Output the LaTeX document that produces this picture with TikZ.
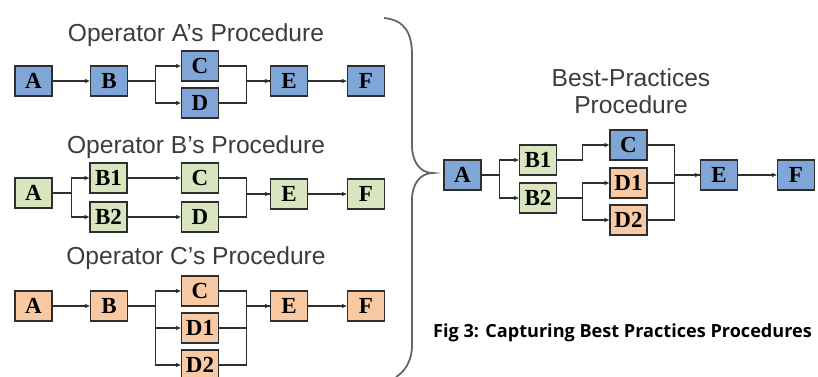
\documentclass[tikz,border=0pt]{standalone}
\usepackage{fontspec}
\setmainfont{Liberation Serif}
\setsansfont{Liberation Sans}
\newfontfamily\capfont{Open Sans}
\usetikzlibrary{arrows.meta}
\definecolor{boxblue}{HTML}{80A6D8}
\definecolor{boxgreen}{HTML}{D8E5BE}
\definecolor{boxorange}{HTML}{F8C9A2}
\definecolor{titlegray}{HTML}{3C3C3C}
\definecolor{edgegray}{HTML}{2E2E2E}
\begin{document}
\begin{tikzpicture}[x=1pt, y=-1pt, >={Stealth[length=5pt,width=4.5pt]},
  blk/.style={draw=edgegray, line width=1.7pt, minimum width=37pt, minimum height=30pt,
    inner sep=0pt, font=\fontsize{23}{23}\selectfont\bfseries},
  bl/.style={blk, fill=boxblue},
  gr/.style={blk, fill=boxgreen},
  or/.style={blk, fill=boxorange},
  ttl/.style={font=\sffamily\fontsize{24.6}{27}\selectfont, text=titlegray, align=center},
  lnk/.style={line width=1.1pt, draw=edgegray}]
  \useasboundingbox (0,0) rectangle (818,376);
  \node[ttl] (tA) at (196,35) {Operator A's Procedure};
  \node[bl] (aA) at (33.5,81) {A};
  \node[bl] (aB) at (109,81) {B};
  \node[bl] (aC) at (200,66) {C};
  \node[bl] (aD) at (200,103) {D};
  \node[bl] (aE) at (289,81) {E};
  \node[bl] (aF) at (366,81) {F};
  \draw[lnk,->] (aA) -- (aB);
  \draw[lnk,->] (aB.east) -- ++(27,0) |- (aC.west);
  \draw[lnk,->] (aB.east) -- ++(27,0) |- (aD.west);
  \draw[lnk,->] (aC.east) -- ++(27,0) |- (aE.west);
  \draw[lnk] (aD.east) -- ++(27,0) |- (aE.west);
  \draw[lnk,->] (aE) -- (aF);

  \node[ttl] (tB) at (196,147) {Operator B's Procedure};
  \node[gr] (bA) at (33.5,193) {A};
  \node[gr] (bB1) at (108.5,178) {B1};
  \node[gr] (bB2) at (108.5,217) {B2};
  \node[gr] (bC) at (200,178) {C};
  \node[gr] (bD) at (200,217) {D};
  \node[gr] (bE) at (289,194) {E};
  \node[gr] (bF) at (366,194) {F};
  \draw[lnk,->] (bA.east) -- ++(19,0) |- (bB1.west);
  \draw[lnk,->] (bA.east) -- ++(19,0) |- (bB2.west);
  \draw[lnk,->] (bB1) -- (bC);
  \draw[lnk,->] (bB2) -- (bD);
  \draw[lnk,->] (bC.east) -- ++(27,0) |- (bE.west);
  \draw[lnk] (bD.east) -- ++(27,0) |- (bE.west);
  \draw[lnk,->] (bE) -- (bF);

  \node[ttl] (tC) at (196,258) {Operator C's Procedure};
  \node[or] (cA) at (33.5,306) {A};
  \node[or] (cB) at (109,306) {B};
  \node[or] (cC) at (200,291) {C};
  \node[or] (cD1) at (200,328) {D1};
  \node[or] (cD2) at (200,365) {D2};
  \node[or] (cE) at (289,306) {E};
  \node[or] (cF) at (366,306) {F};
  \draw[lnk,->] (cA) -- (cB);
  \draw[lnk,->] (cB.east) -- ++(27,0) |- (cC.west);
  \draw[lnk,->] (cB.east) -- ++(27,0) |- (cD1.west);
  \draw[lnk,->] (cB.east) -- ++(27,0) |- (cD2.west);
  \draw[lnk,->] (cC.east) -- ++(27,0) |- (cE.west);
  \draw[lnk] (cD1.east) -- ++(27,0) |- (cE.west);
  \draw[lnk] (cD2.east) -- ++(27,0) |- (cE.west);
  \draw[lnk,->] (cE) -- (cF);

  \draw[line width=1.8pt, draw=gray!80!black]
    (384,18) .. controls (404,20) and (412,32) .. (412,55) -- (412,145)
    .. controls (412,162) and (420,173) .. (433,173)
    .. controls (420,173) and (412,184) .. (412,200) -- (412,345)
    .. controls (412,362) and (404,372) .. (396,377);

  \node[ttl] (tP) at (631,91) {Best-Practices\\Procedure};
  \node[bl] (pA) at (462.5,175) {A};
  \node[gr] (pB1) at (538,160) {B1};
  \node[gr] (pB2) at (538,198) {B2};
  \node[bl] (pC) at (628.5,145) {C};
  \node[or] (pD1) at (628.5,183) {D1};
  \node[or] (pD2) at (628.5,220) {D2};
  \node[bl] (pE) at (719,175) {E};
  \node[bl] (pF) at (796,175) {F};
  \draw[lnk,->] (pA.east) -- ++(18,0) |- (pB1.west);
  \draw[lnk,->] (pA.east) -- ++(18,0) |- (pB2.west);
  \draw[lnk,->] (pB1.east) -- ++(25,0) |- (pC.west);
  \draw[lnk,->] (pB2.east) -- ++(25,0) |- (pD1.west);
  \draw[lnk,->] (pB2.east) -- ++(25,0) |- (pD2.west);
  \draw[lnk,->] (pC.east) -- ++(27,0) |- (pE.west);
  \draw[lnk] (pD1.east) -- ++(27,0) |- (pE.west);
  \draw[lnk] (pD2.east) -- ++(27,0) |- (pE.west);
  \draw[lnk,->] (pE) -- (pF);

  \node[anchor=base west, inner sep=0pt, font=\capfont\bfseries\fontsize{18.1}{18.1}\selectfont]
    (cap) at (433,337) {Fig 3: Capturing Best Practices Procedures};
\end{tikzpicture}
\end{document}
